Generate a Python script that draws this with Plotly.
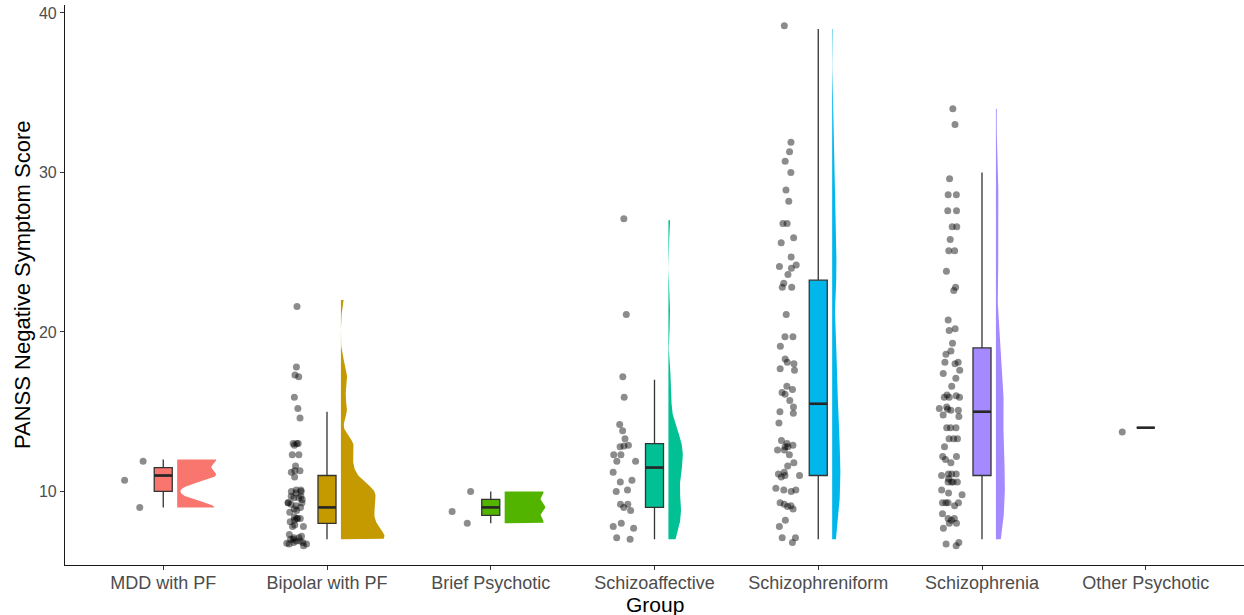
import numpy as np
import plotly.graph_objects as go

groups = ["MDD with PF", "Bipolar with PF", "Brief Psychotic", "Schizoaffective",
          "Schizophreniform", "Schizophrenia", "Other Psychotic"]
colors = ["#F8766D", "#C49A00", "#53B400", "#00C094", "#00B6EB", "#A58AFF", "#FB61D7"]

# PANSS negative scores as plotted (points carry a small vertical jitter)
scores_mdd = [11.9, 10.7, 9.0]
scores_bipolar = [21.6, 17.8, 17.3, 17.2, 15.9, 15.2, 14.6, 13.0, 12.9, 13.0, 13.0, 12.3,
                  12.3, 11.6, 11.3, 11.2, 11.3, 10.9, 10.1, 10.0, 10.1, 10.0, 9.9, 9.7,
                  9.6, 9.7, 9.6, 9.5, 9.3, 9.3, 9.2, 9.3, 9.0, 8.8, 8.7, 9.1, 8.9,
                  8.3, 8.4, 8.3, 8.1, 7.8, 7.8, 8.3, 7.9, 8.2,
                  7.3, 7.0, 6.9, 6.8, 7.1, 6.7, 6.6, 7.1, 6.8, 6.9, 7.2, 6.7, 7.0, 6.75]
scores_brief = [10.0, 8.75, 8.0]
scores_schizoaff = [27.1, 21.1, 17.2, 15.9, 14.2, 13.8, 13.3, 12.9, 12.85, 12.8, 12.3, 12.3,
                    11.9, 11.9, 11.2, 10.7, 10.6, 10.0, 10.1, 9.2, 9.2, 9.0, 8.8, 8.0,
                    7.8, 7.7, 7.0, 7.1]
scores_schizophreniform = [39.2, 31.9, 31.3, 30.7, 30.0, 28.9, 28.2, 26.8, 26.8, 25.6, 25.9,
                           24.7, 24.0, 24.2, 23.6, 24.1, 23.05, 22.8, 22.8,
                           21.1, 19.7, 19.7, 19.1, 18.1, 18.3, 18.0, 17.7, 17.6, 16.6, 16.1,
                           16.4, 16.2, 15.7, 15.3, 15.0, 14.9, 14.3, 13.2, 13.0, 12.6, 12.8,
                           12.8, 12.9, 12.6, 12.3, 11.8, 11.6, 10.9, 11.1, 11.0, 11.2, 11.0,
                           10.1, 10.2, 10.0, 10.1, 9.2, 9.05, 8.9, 9.1, 9.3, 8.2, 7.8, 7.1,
                           7.1, 6.8]
scores_schizophrenia = [34.0, 33.0, 29.6, 28.6, 28.6, 27.6, 27.6, 26.6, 26.6, 25.8, 25.1,
                        25.1, 23.8, 22.8, 22.6, 20.75, 20.2,
                        20.1, 19.3, 18.8, 18.6, 18.0, 18.1, 18.1, 17.6, 17.4, 17.1, 16.6,
                        15.9, 15.9, 15.9, 16.0, 16.05, 15.2, 15.3, 15.1, 15.1, 15.15, 14.7,
                        14.8, 14.0, 14.0, 14.0, 13.3, 13.3, 13.3, 12.8, 12.2, 12.2, 12.0,
                        11.8, 11.1, 11.1, 11.1, 10.6, 10.6, 10.6, 10.8, 11.0, 10.6, 9.8,
                        9.9, 10.1, 9.3, 9.3, 9.3, 9.3, 9.1, 8.6, 8.3, 8.3, 8.2, 7.7, 8.0,
                        8.0, 6.6, 6.7, 6.8]
scores_other = [13.73]

scores = [scores_mdd, scores_bipolar, scores_brief, scores_schizoaff,
          scores_schizophreniform, scores_schizophrenia, scores_other]

# boxplot statistics (whiskers = most extreme points within 1.5 IQR)
box_lower = [9, 7, 8, 7, 7, 7, 14]
box_q1 = [10, 8, 8.5, 9, 11, 11, 14]
box_median = [11, 9, 9, 11.5, 15.5, 15, 14]
box_q3 = [11.5, 11, 9.5, 13, 23.25, 19, 14]
box_upper = [12, 15, 10, 17, 39, 30, 14]

# half-violin styling: kernel bandwidth and maximum half-width (x units)
violin_bw = [0.4, 0.55, 0.42, 0.95, 1.5, 1.4, 1.0]
violin_w = [0.238, 0.266, 0.248, 0.088, 0.05, 0.055, 0.0]

pts_offset, pts_width = -0.185, 0.16
box_width = 0.11
violin_offset = 0.085

fig = go.Figure()

for i, g in enumerate(groups):
    pos = i + 1
    vals = np.array(scores[i])
    # half violin from integer scores (jitter removed)
    ints = np.round(vals)
    if len(ints) >= 2 and violin_w[i] > 0:
        grid = np.linspace(ints.min(), ints.max(), 400)
        bw = violin_bw[i]
        dens = np.exp(-0.5 * ((grid[:, None] - ints[None, :]) / bw) ** 2).sum(axis=1)
        dens = dens / dens.max()
        base = pos + violin_offset
        xs = np.concatenate([[base], base + dens * violin_w[i], [base]])
        ys = np.concatenate([[grid[0]], grid, [grid[-1]]])
        fig.add_trace(go.Scatter(x=xs, y=ys, mode="lines", fill="toself",
                                 fillcolor=colors[i], line=dict(width=0, color=colors[i]),
                                 hoverinfo="skip", showlegend=False))
    # jittered points
    fig.add_trace(go.Box(y=vals, x0=pos + pts_offset, width=pts_width, boxpoints="all",
                         jitter=1, pointpos=0, fillcolor="rgba(0,0,0,0)",
                         line=dict(width=0, color="rgba(0,0,0,0)"),
                         marker=dict(size=7, color="rgba(0,0,0,0.45)", line=dict(width=0)),
                         hoveron="points", showlegend=False, name=g))
    # boxplot
    fig.add_trace(go.Box(x=[pos], q1=[box_q1[i]], median=[box_median[i]], q3=[box_q3[i]],
                         lowerfence=[box_lower[i]], upperfence=[box_upper[i]],
                         width=box_width, fillcolor=colors[i], whiskerwidth=0,
                         line=dict(color="#333333", width=1.3), boxpoints=False,
                         showlegend=False, name=g))
    # thicker median line
    fig.add_trace(go.Scatter(x=[pos - box_width / 2, pos + box_width / 2],
                             y=[box_median[i], box_median[i]], mode="lines",
                             line=dict(color="#262626", width=2.6),
                             hoverinfo="skip", showlegend=False))

axis_common = dict(showline=True, linecolor="#1a1a1a", linewidth=1.1, ticks="outside",
                   ticklen=4, tickcolor="#333333", tickwidth=1.1, showgrid=False,
                   zeroline=False)

fig.update_layout(
    width=1244, height=615,
    margin=dict(l=65, r=0, t=5, b=50),
    plot_bgcolor="white", paper_bgcolor="white",
    boxmode="overlay", showlegend=False,
    font=dict(family="Liberation Sans, Arial, sans-serif"),
    xaxis=dict(range=[0.4, 7.6], tickvals=list(range(1, 8)), ticktext=groups,
               tickfont=dict(size=18, color="#4D4D4D"), ticklabelstandoff=-3,
               **axis_common),
    yaxis=dict(range=[5.39, 40.5], tickvals=[10, 20, 30, 40],
               tickfont=dict(size=16, color="#4D4D4D"), **axis_common),
    annotations=[
        dict(text="PANSS Negative Symptom Score", xref="paper", yref="paper",
             x=0, y=0.5, xshift=-43, textangle=-90, showarrow=False,
             font=dict(size=22, color="black"), xanchor="center", yanchor="middle"),
        dict(text="Group", xref="paper", yref="paper", x=0.5, y=0, yshift=-39,
             showarrow=False, font=dict(size=21, color="black"),
             xanchor="center", yanchor="middle"),
    ],
)

fig.write_html("out.html")
